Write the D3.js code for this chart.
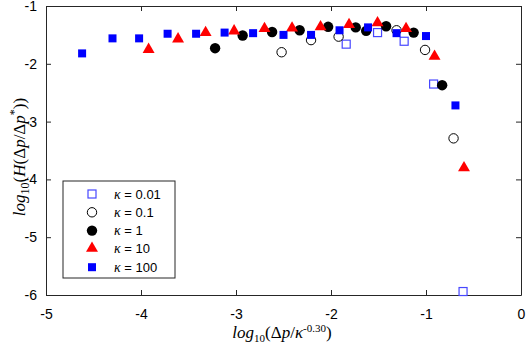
<!DOCTYPE html>
<html>
<head>
<meta charset="utf-8">
<script src="https://cdn.jsdelivr.net/npm/d3@7"></script>
<style>
  body { margin: 0; background: #fff; }
  text { font-family: "Liberation Sans", Arial, sans-serif; }
  .math { font-family: "Liberation Serif", "DejaVu Serif", serif; }
</style>
</head>
<body>
<div id="chart"></div>
<script>
// data: [log10(dp/k^-0.30), log10(H)]
const k001 = [[-1.84, -1.66], [-1.51, -1.46], [-1.23, -1.61], [-0.92, -2.35], [-0.61, -5.94]];
const k01 = [[-2.52, -1.80], [-2.21, -1.59], [-1.92, -1.53], [-1.31, -1.42], [-1.01, -1.76], [-0.71, -3.29]];
const k1 = [[-3.22, -1.73], [-2.93, -1.51], [-2.62, -1.45], [-2.33, -1.42], [-2.03, -1.36], [-1.74, -1.37],
            [-1.63, -1.43], [-1.42, -1.35], [-1.13, -1.46], [-0.83, -2.37]];
const k10 = [[-3.92, -1.76], [-3.61, -1.58], [-3.32, -1.47], [-3.02, -1.44], [-2.70, -1.40], [-2.41, -1.39],
             [-2.11, -1.37], [-1.81, -1.33], [-1.51, -1.30], [-1.21, -1.40], [-0.91, -1.88], [-0.60, -3.81]];
const k100 = [[-4.62, -1.82], [-4.30, -1.56], [-4.02, -1.56], [-3.72, -1.48], [-3.42, -1.48], [-3.12, -1.46],
              [-2.82, -1.47], [-2.50, -1.50], [-2.21, -1.50], [-1.91, -1.42], [-1.61, -1.37], [-1.31, -1.47],
              [-1.00, -1.52], [-0.69, -2.72]];
const legendLabels = ["0.01", "0.1", "1", "10", "100"];
const xTicks = [-5, -4, -3, -2, -1, 0];
const yTicks = [-1, -2, -3, -4, -5, -6];

const W = 526, H = 344;
const margin = {top: 6, right: 5, bottom: 49, left: 46};
const iw = W - margin.left - margin.right, ih = H - margin.top - margin.bottom;

const svg = d3.select("#chart").append("svg").attr("width", W).attr("height", H);
const g = svg.append("g").attr("transform", `translate(${margin.left},${margin.top})`);

const x = d3.scaleLinear().domain([-5, 0]).range([0, iw]);
const y = d3.scaleLinear().domain([-6, -1]).range([ih, 0]);

const axisColor = "#262626";
const fmt = d => String(d);   // plain hyphen, no decimals

// axes with inward ticks on all sides (box on)
function styleAxis(sel) {
    sel.select(".domain").attr("stroke", axisColor);
    sel.selectAll(".tick line").attr("stroke", axisColor);
    sel.selectAll(".tick text").attr("fill", "#000").attr("font-size", 14)
        .attr("font-family", "Liberation Sans, Arial, sans-serif");
}
g.append("g").attr("transform", `translate(0,${ih})`)
    .call(d3.axisBottom(x).tickValues(xTicks).tickFormat(fmt).tickSize(-5).tickPadding(14).tickSizeOuter(0))
    .call(styleAxis);
g.append("g")
    .call(d3.axisLeft(y).tickValues(yTicks).tickFormat(fmt).tickSize(-5).tickPadding(9).tickSizeOuter(0))
    .call(styleAxis);
g.append("g")
    .call(d3.axisTop(x).tickValues(xTicks).tickSize(-5).tickFormat("").tickSizeOuter(0))
    .call(styleAxis);
g.append("g").attr("transform", `translate(${iw},0)`)
    .call(d3.axisRight(y).tickValues(yTicks).tickSize(-5).tickFormat("").tickSizeOuter(0))
    .call(styleAxis);

// marker drawers
const markers = {
    openSquare: (sel) => sel.append("rect").attr("x", -4).attr("y", -4).attr("width", 8).attr("height", 8)
        .attr("fill", "none").attr("stroke", "#4747ff").attr("stroke-width", 1.2),
    openCircle: (sel) => sel.append("circle").attr("r", 4.7)
        .attr("fill", "none").attr("stroke", "#000").attr("stroke-width", 1),
    fullCircle: (sel) => sel.append("circle").attr("r", 5.2).attr("fill", "#000"),
    triangle: (sel) => sel.append("path").attr("d", d3.symbol(d3.symbolTriangle, 62)())
        .attr("fill", "#ff0000").attr("transform", "translate(0,-0.5)"),
    square: (sel) => sel.append("rect").attr("x", -4).attr("y", -4).attr("width", 8).attr("height", 8)
        .attr("fill", "#0000ff")
};

const series = [
    {data: k001, mark: markers.openSquare},
    {data: k01, mark: markers.openCircle},
    {data: k1, mark: markers.fullCircle},
    {data: k10, mark: markers.triangle},
    {data: k100, mark: markers.square}
];

series.forEach(s => {
    g.append("g").selectAll("g").data(s.data).enter().append("g")
        .attr("transform", d => `translate(${x(d[0])},${y(d[1])})`)
        .call(s.mark);
});

// legend
const legend = svg.append("g").attr("transform", "translate(63,181)");
legend.append("rect").attr("width", 112).attr("height", 97)
    .attr("fill", "#fff").attr("stroke", axisColor).attr("stroke-width", 1);
series.forEach((s, i) => {
    const row = legend.append("g").attr("transform", `translate(0,${13 + i * 18.3})`);
    row.append("g").attr("transform", "translate(29,0)").call(s.mark);
    const t = row.append("text").attr("x", 51).attr("dy", "0.35em").attr("font-size", 13);
    t.append("tspan").attr("class", "math").attr("font-style", "italic").attr("font-size", 14).text("κ");
    t.append("tspan").text(" = " + legendLabels[i]);
});

// x label
const xl = svg.append("text").attr("class", "math").attr("x", 282).attr("y", 338)
    .attr("text-anchor", "middle").attr("font-size", 17);
xl.append("tspan").attr("font-style", "italic").text("log");
xl.append("tspan").attr("font-size", 11).attr("dy", 4).text("10");
xl.append("tspan").attr("dy", -4).text("(Δ");
xl.append("tspan").attr("font-style", "italic").text("p");
xl.append("tspan").text("/");
xl.append("tspan").attr("font-style", "italic").text("κ");
xl.append("tspan").attr("font-size", 11).attr("dy", -6).text("-0.30");
xl.append("tspan").attr("dy", 6).text(")");

// y label
const yl = svg.append("text").attr("class", "math")
    .attr("transform", "translate(25,157) rotate(-90)")
    .attr("text-anchor", "middle").attr("font-size", 17);
yl.append("tspan").attr("font-style", "italic").text("log");
yl.append("tspan").attr("font-size", 12).attr("dy", 4).text("10");
yl.append("tspan").attr("dy", -4).text("(");
yl.append("tspan").attr("font-style", "italic").text("H");
yl.append("tspan").text("(Δ");
yl.append("tspan").attr("font-style", "italic").text("p");
yl.append("tspan").text("/Δ");
yl.append("tspan").attr("font-style", "italic").text("p");
yl.append("tspan").attr("font-size", 12).attr("dy", -7).text("*");
yl.append("tspan").attr("dy", 7).text("))");
</script>
</body>
</html>
